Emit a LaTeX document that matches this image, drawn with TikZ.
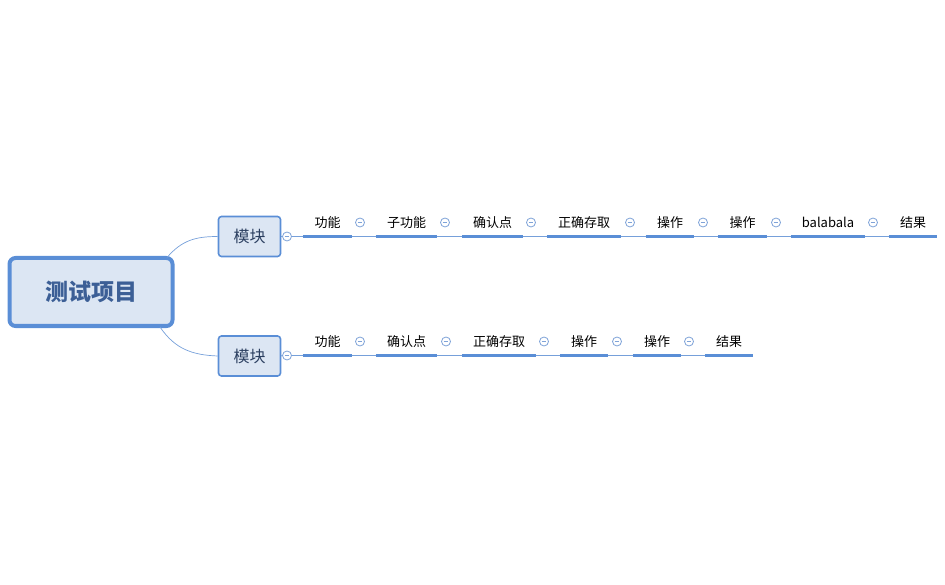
\documentclass[tikz,border=0pt]{standalone}
\usepackage{fontspec}
\setmainfont{Noto Sans CJK SC}
\begin{document}
\begin{tikzpicture}[x=1pt,y=-1pt,
  rootbox/.style={draw=rootblue,line width=4pt,fill=rootfill,rounded corners=6pt,minimum width=163pt,minimum height=68pt,inner sep=0pt,text=roottext,font=\fontsize{23}{26}\selectfont\bfseries},
  modbox/.style={draw=rootblue,line width=1.6pt,fill=rootfill,rounded corners=3pt,minimum width=62pt,minimum height=40pt,inner sep=0pt,text=modtext,font=\fontsize{16}{18}\selectfont},
  itembox/.style={inner sep=0pt,minimum height=28pt,anchor=south,font=\fontsize{13}{15}\selectfont,text=black},
  uline/.style={draw=rootblue,line width=3pt},
  thin/.style={draw=linkblue,line width=0.9pt},
  fold/.style={circle,draw=foldblue,line width=0.8pt,fill=white,minimum size=9pt,inner sep=0pt,
    path picture={\draw[foldblue,line width=0.8pt] ([xshift=-2.3pt]path picture bounding box.center) -- ([xshift=2.3pt]path picture bounding box.center);}}
]
\definecolor{rootblue}{HTML}{5A8ED6}
\definecolor{rootfill}{HTML}{DCE6F3}
\definecolor{roottext}{HTML}{3C5F96}
\definecolor{modtext}{HTML}{2B3F60}
\definecolor{linkblue}{HTML}{76A0DA}
\definecolor{foldblue}{HTML}{7FA3D8}
\useasboundingbox (0,0) rectangle (945,585);

% root and modules
\node[rootbox] (root) at (91,292) {测试项目};
\node[modbox] (m1) at (249.5,236.5) {模块};
\node[modbox] (m2) at (249.5,356) {模块};
\coordinate (r1) at (167,257.5);
\coordinate (r2) at (160,327);
\draw[thin,line width=0.7pt] (r1) .. controls (182,240) and (196,236.5) .. (m1.west);
\draw[thin,line width=0.7pt] (r2) .. controls (175,349) and (192,355) .. (m2.west);

% row 1
\node[fold] (mc1) at (287,236.5) {};
\node[itembox,minimum width=49pt] (a1) at (327.5,236.5) {功能};
\node[itembox,minimum width=61pt] (a2) at (406.5,236.5) {子功能};
\node[itembox,minimum width=61pt] (a3) at (492.5,236.5) {确认点};
\node[itembox,minimum width=74pt] (a4) at (584,236.5) {正确存取};
\node[itembox,minimum width=48pt] (a5) at (670,236.5) {操作};
\node[itembox,minimum width=49pt] (a6) at (742.5,236.5) {操作};
\node[itembox,minimum width=74pt] (a7) at (828,236.5) {balabala};
\node[itembox,minimum width=48pt] (a8) at (913,236.5) {结果};
\node[fold] (ac1) at (360,222.5) {};
\node[fold] (ac2) at (445,222.5) {};
\node[fold] (ac3) at (531,222.5) {};
\node[fold] (ac4) at (630,222.5) {};
\node[fold] (ac5) at (703,222.5) {};
\node[fold] (ac6) at (776,222.5) {};
\node[fold] (ac7) at (873,222.5) {};
\draw[thin] (m1.east) -- (mc1.west);
\draw[thin] (mc1.east) -- (a1.south west);
\draw[thin] (a1.south east) -- (a2.south west);
\draw[thin] (a2.south east) -- (a3.south west);
\draw[thin] (a3.south east) -- (a4.south west);
\draw[thin] (a4.south east) -- (a5.south west);
\draw[thin] (a5.south east) -- (a6.south west);
\draw[thin] (a6.south east) -- (a7.south west);
\draw[thin] (a7.south east) -- (a8.south west);
\foreach \n in {a1,a2,a3,a4,a5,a6,a7,a8}{\draw[uline] (\n.south west) -- (\n.south east);}

% row 2
\node[fold] (mc2) at (287,355.5) {};
\node[itembox,minimum width=49pt] (b1) at (327.5,355.5) {功能};
\node[itembox,minimum width=61pt] (b2) at (406.5,355.5) {确认点};
\node[itembox,minimum width=74pt] (b3) at (499,355.5) {正确存取};
\node[itembox,minimum width=48pt] (b4) at (584,355.5) {操作};
\node[itembox,minimum width=48pt] (b5) at (657,355.5) {操作};
\node[itembox,minimum width=48pt] (b6) at (729,355.5) {结果};
\node[fold] (bc1) at (360,341.5) {};
\node[fold] (bc2) at (446,341.5) {};
\node[fold] (bc3) at (544,341.5) {};
\node[fold] (bc4) at (617,341.5) {};
\node[fold] (bc5) at (689,341.5) {};
\draw[thin] (m2.east) -- (mc2.west);
\draw[thin] (mc2.east) -- (b1.south west);
\draw[thin] (b1.south east) -- (b2.south west);
\draw[thin] (b2.south east) -- (b3.south west);
\draw[thin] (b3.south east) -- (b4.south west);
\draw[thin] (b4.south east) -- (b5.south west);
\draw[thin] (b5.south east) -- (b6.south west);
\foreach \n in {b1,b2,b3,b4,b5,b6}{\draw[uline] (\n.south west) -- (\n.south east);}
\end{tikzpicture}
\end{document}
